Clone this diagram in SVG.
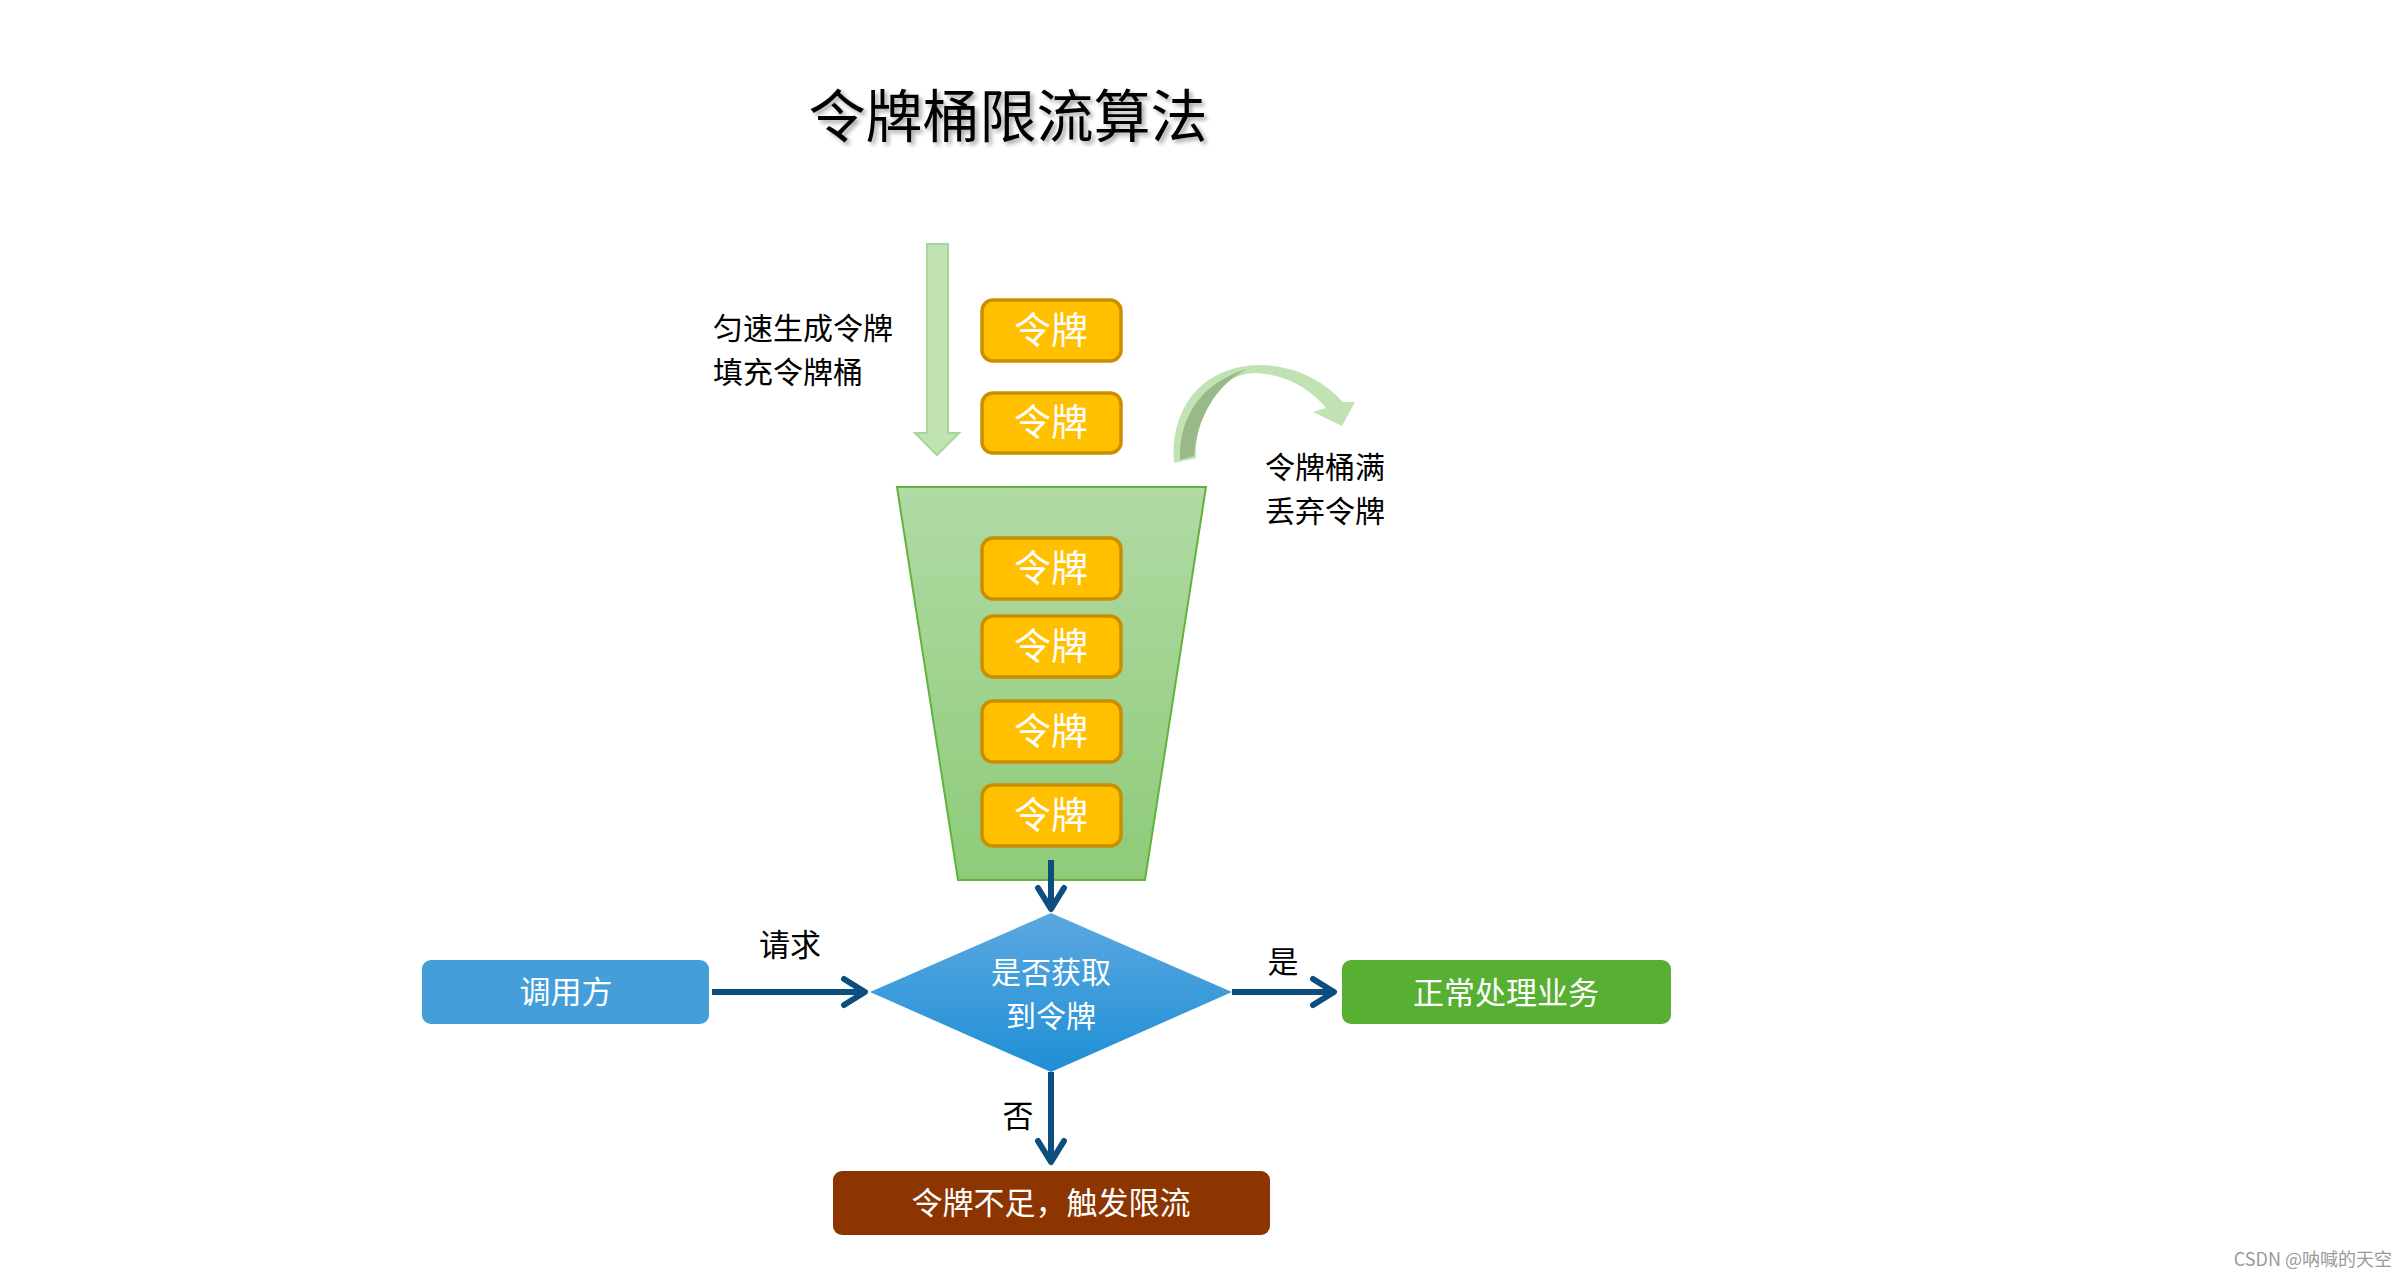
<svg xmlns="http://www.w3.org/2000/svg" width="2408" height="1280" viewBox="0 0 2408 1280">
<defs>
<style>
text{font-family:"Noto Sans CJK SC","Liberation Sans",sans-serif;}
.tok rect{fill:#FFC000;stroke:#C98F00;stroke-width:3.5;}
.tok text{fill:#FFFFFF;font-size:37px;text-anchor:middle;}
.lbl{fill:#000000;font-size:31px;}
.lbl2{fill:#000000;font-size:30px;}
.wt{fill:#FFFFFF;font-size:31px;text-anchor:middle;}
.wt2{fill:#FFFFFF;font-size:30px;text-anchor:middle;}
.conn{stroke:#0C4F7E;stroke-width:6;fill:none;marker-end:url(#chev);}
</style>
<linearGradient id="bucketGrad" x1="0" y1="0" x2="0" y2="1">
<stop offset="0" stop-color="#B1DAA4"/>
<stop offset="1" stop-color="#8ECB79"/>
</linearGradient>
<linearGradient id="diaGrad" x1="0" y1="0" x2="0" y2="1">
<stop offset="0" stop-color="#5CA8E0"/>
<stop offset="1" stop-color="#1F8FD6"/>
</linearGradient>
<marker id="chev" markerUnits="userSpaceOnUse" viewBox="-26 -17 30 34" markerWidth="30" markerHeight="34" refX="0" refY="0" orient="auto">
<path d="M-21,-13 L0,0 L-21,13" fill="none" stroke="#0C4F7E" stroke-width="6" stroke-linecap="round" stroke-linejoin="round"/>
</marker>
<filter id="shadow" x="-10%" y="-30%" width="120%" height="160%">
<feDropShadow dx="3" dy="3" stdDeviation="2" flood-color="#000000" flood-opacity="0.35"/>
</filter>
</defs>
<rect x="0" y="0" width="2408" height="1280" fill="#FFFFFF"/>

<g id="title">
<text x="1008" y="137" font-size="57" text-anchor="middle" fill="#000000" filter="url(#shadow)">令牌桶限流算法</text>
</g>

<g id="fill-arrow">
<polygon points="927,244 948,244 948,433 959,433 937,455 915,433 927,433" fill="#C1E2B2" stroke="#A8D698" stroke-width="2"/>
</g>
<g id="fill-label">
<text class="lbl2" x="713" y="339">匀速生成令牌</text>
<text class="lbl2" x="713" y="383">填充令牌桶</text>
</g>

<g id="token-top1" class="tok"><rect x="982" y="300" width="139" height="61" rx="11"/><text x="1051" y="344">令牌</text></g>
<g id="token-top2" class="tok"><rect x="982" y="393" width="139" height="60" rx="11"/><text x="1051" y="436">令牌</text></g>

<g id="overflow-arrow">
<path d="M1174,463 C1170,410 1200,366 1260,365 C1295,365 1325,382 1343,402 L1355,402 L1342,426 L1313,412 L1326,408 C1310,388 1285,374 1255,373 C1218,374 1195,410 1196,458 Z" fill="#C1E2B2"/>
<path d="M1180,460 C1179,418 1200,383 1247,369 C1214,386 1197,420 1194,456 Z" fill="#9AB988"/>
</g>
<g id="overflow-label">
<text class="lbl2" x="1265" y="478">令牌桶满</text>
<text class="lbl2" x="1265" y="522">丢弃令牌</text>
</g>

<g id="bucket">
<polygon points="897,487 1206,487 1145,880 958,880" fill="url(#bucketGrad)" stroke="#62B23E" stroke-width="2"/>
</g>
<g id="token-b1" class="tok"><rect x="982" y="538" width="139" height="61" rx="11"/><text x="1051" y="582">令牌</text></g>
<g id="token-b2" class="tok"><rect x="982" y="616" width="139" height="61" rx="11"/><text x="1051" y="660">令牌</text></g>
<g id="token-b3" class="tok"><rect x="982" y="701" width="139" height="61" rx="11"/><text x="1051" y="745">令牌</text></g>
<g id="token-b4" class="tok"><rect x="982" y="785" width="139" height="61" rx="11"/><text x="1051" y="829">令牌</text></g>

<g id="caller">
<rect x="422" y="960" width="287" height="64" rx="9" fill="#439EDA"/>
<text class="wt" x="566" y="1003">调用方</text>
</g>

<g id="decision">
<polygon points="1051,913 1232,992 1051,1072 870,992" fill="url(#diaGrad)"/>
<text class="wt2" x="1051" y="983">是否获取</text>
<text class="wt2" x="1051" y="1027">到令牌</text>
</g>

<g id="normal">
<rect x="1342" y="960" width="329" height="64" rx="9" fill="#58B033"/>
<text class="wt" x="1506" y="1004">正常处理业务</text>
</g>

<g id="limit">
<rect x="833" y="1171" width="437" height="64" rx="9" fill="#8C3500"/>
<text class="wt" x="1051" y="1214">令牌不足，触发限流</text>
</g>

<g id="connectors">
<path class="conn" d="M1051,860 L1051,909"/>
<path class="conn" d="M712,992 L865,992"/>
<path class="conn" d="M1232,992 L1334,992"/>
<path class="conn" d="M1051,1072 L1051,1162"/>
</g>

<g id="edge-labels">
<text class="lbl" x="790" y="956" text-anchor="middle">请求</text>
<text class="lbl" x="1283" y="973" text-anchor="middle">是</text>
<text class="lbl" x="1018" y="1127" text-anchor="middle">否</text>
</g>

<g id="watermark">
<text x="2392" y="1266" font-size="18" fill="#9A9A9A" text-anchor="end">CSDN @呐喊的天空</text>
</g>
</svg>
